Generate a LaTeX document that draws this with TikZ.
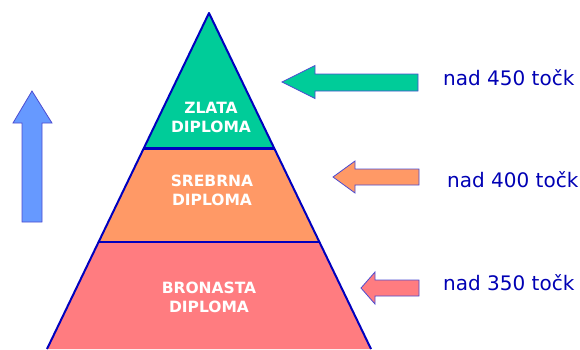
\documentclass[tikz,border=0pt]{standalone}
\usepackage{fontspec}
\setmainfont{DejaVu Sans}
\usetikzlibrary{positioning}
\definecolor{zlatac}{RGB}{0,204,153}
\definecolor{srebrnac}{RGB}{255,153,102}
\definecolor{bronastac}{RGB}{255,124,128}
\definecolor{upc}{RGB}{102,153,255}
\definecolor{edgec}{RGB}{0,0,190}
\definecolor{textc}{RGB}{0,0,180}
\begin{document}
\begin{tikzpicture}[x=1pt,y=-1pt,
  layer/.style={draw=edgec,line width=2pt,line join=round},
  blockarrow/.style={draw=edgec!70,line width=0.8pt,line join=miter},
  level text/.style={text=white,font=\bfseries\fontsize{15.5}{19}\selectfont,align=center,inner sep=0pt},
  points/.style={text=textc,font=\fontsize{20}{24}\selectfont,inner sep=0pt,anchor=base west}]
\useasboundingbox (0,0) rectangle (580,349);
% pyramid
\coordinate (top) at (209,13);
\coordinate (l1) at (144,148);
\coordinate (r1) at (274,148);
\coordinate (l2) at (99,242);
\coordinate (r2) at (319,242);
\coordinate (l3) at (47,349);
\coordinate (r3) at (371,349);
\fill[bronastac] (l2) -- (r2) -- (r3) -- (l3) -- cycle;
\fill[srebrnac] (l1) -- (r1) -- (r2) -- (l2) -- cycle;
\fill[zlatac] (top) -- (r1) -- (l1) -- cycle;
\draw[layer] (l3) -- (top) -- (r3);
\draw[layer,line width=3pt] (l1) -- (r1);
\draw[layer] (l2) -- (r2);
\node[level text] (zlata) at (211,117) {ZLATA\\DIPLOMA};
\node[level text] (srebrna) at (212,190) {SREBRNA\\DIPLOMA};
\node[level text] (bronasta) at (209,297) {BRONASTA\\DIPLOMA};
% labels
\node[points] (p450) at (443,85) {nad 450 točk};
\node[points] (p400) at (447,187) {nad 400 točk};
\node[points] (p350) at (443,290) {nad 350 točk};
% arrows
\draw[blockarrow,fill=zlatac] (282,82) -- (315,65.5) -- (315,74) -- (418,74) -- (418,91) -- (315,91) -- (315,98.5) -- cycle;
\draw[blockarrow,fill=srebrnac] (333,177) -- (355,161) -- (355,169) -- (419,169) -- (419,185) -- (355,185) -- (355,193) -- cycle;
\draw[blockarrow,fill=bronastac] (361,288) -- (375,272) -- (375,280) -- (419,280) -- (419,296) -- (375,296) -- (375,304) -- cycle;
\draw[blockarrow,fill=upc] (32,91) -- (52,123) -- (42,123) -- (42,222) -- (22,222) -- (22,123) -- (13,123) -- cycle;
\end{tikzpicture}
\end{document}
